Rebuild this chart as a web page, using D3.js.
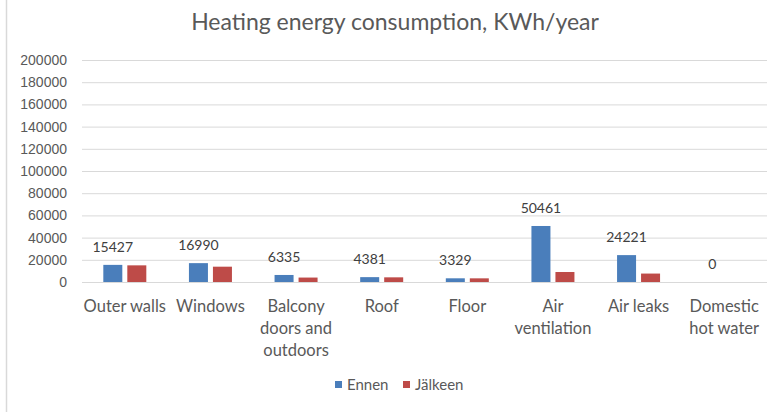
<!DOCTYPE html>
<html>
<head>
<meta charset="utf-8">
<script src="https://cdn.jsdelivr.net/npm/d3@7"></script>
<style>
  body { margin: 0; background: #fff; }
  svg { display: block; font-family: Lato, "Open Sans", sans-serif; }
  .tick text { fill: #595959; }
</style>
</head>
<body>
<div class="container"></div>
<script>
const categories = [
  ["Outer walls"],
  ["Windows"],
  ["Balcony", "doors and", "outdoors"],
  ["Roof"],
  ["Floor"],
  ["Air", "ventilation"],
  ["Air leaks"],
  ["Domestic", "hot water"]
];
const ennen = [15427, 16990, 6335, 4381, 3329, 50461, 24221, 0];
const jalkeen = [15000, 13800, 4000, 4200, 3300, 9000, 7600, 0];
const yTicks = [0, 20000, 40000, 60000, 80000, 100000, 120000, 140000, 160000, 180000, 200000];
const seriesNames = ["Ennen", "Jälkeen"];
const colors = ["#4a7ebb", "#be4b48"];

const W = 779, H = 412;
const margin = { top: 60, left: 82, right: 12, bottom: 130 };
const plotW = W - margin.left - margin.right;
const plotH = 282 - margin.top;

const svg = d3.select(".container").append("svg")
  .attr("width", W).attr("height", H);

// chart area border (left edge visible)
svg.append("line")
  .attr("x1", 6.5).attr("x2", 6.5).attr("y1", 0).attr("y2", H)
  .attr("stroke", "#d9d9d9").attr("stroke-width", 1.5);

svg.append("text")
  .attr("x", 395).attr("y", 30)
  .attr("text-anchor", "middle")
  .attr("fill", "#595959")
  .style("font-size", "23px")
  .text("Heating energy consumption, KWh/year");

const x = d3.scaleBand().domain(d3.range(categories.length)).range([0, plotW]);
const y = d3.scaleLinear().domain([0, 200000]).range([plotH, 0]);

const g = svg.append("g").attr("transform", `translate(${margin.left},${margin.top})`);

const yAxis = d3.axisLeft(y).tickValues(yTicks).tickFormat(d3.format("d"))
  .tickSize(-plotW).tickPadding(15);
g.append("g").call(yAxis)
  .call(a => a.select(".domain").remove())
  .call(a => a.selectAll(".tick line").attr("stroke", "#d9d9d9"))
  .call(a => a.selectAll(".tick text").style("font-size", "14px"));

const barW = 19, gap = 5;
const seriesData = [ennen, jalkeen];
seriesData.forEach((vals, s) => {
  g.append("g").selectAll("rect")
    .data(vals)
    .enter().append("rect")
    .attr("x", (d, i) => x(i) + x.bandwidth() / 2 - barW - gap / 2 + s * (barW + gap))
    .attr("y", d => y(d))
    .attr("width", barW)
    .attr("height", d => plotH - y(d))
    .attr("fill", colors[s]);
});

// data labels for Ennen
g.append("g").selectAll("text")
  .data(ennen)
  .enter().append("text")
  .attr("x", (d, i) => x(i) + x.bandwidth() / 2 - barW / 2 - gap / 2)
  .attr("y", d => y(d) - 13)
  .attr("text-anchor", "middle")
  .attr("fill", "#404040")
  .style("font-size", "14px")
  .text(d => d);

// category labels
const cat = g.append("g").selectAll("text")
  .data(categories)
  .enter().append("text")
  .attr("x", (d, i) => x(i) + x.bandwidth() / 2)
  .attr("y", plotH + 30)
  .attr("text-anchor", "middle")
  .attr("fill", "#595959")
  .style("font-size", "16.5px");
cat.selectAll("tspan")
  .data(d => d)
  .enter().append("tspan")
  .attr("x", function () { return d3.select(this.parentNode).attr("x"); })
  .attr("dy", (d, i) => i === 0 ? 0 : 22)
  .text(d => d);

// legend
const legend = svg.append("g");
const legendX = [335, 403];
seriesNames.forEach((n, i) => {
  legend.append("rect")
    .attr("x", legendX[i]).attr("y", 381)
    .attr("width", 7).attr("height", 7)
    .attr("fill", colors[i]);
  legend.append("text")
    .attr("x", legendX[i] + 12).attr("y", 390)
    .attr("fill", "#595959")
    .style("font-size", "15px")
    .text(n);
});
</script>
</body>
</html>
